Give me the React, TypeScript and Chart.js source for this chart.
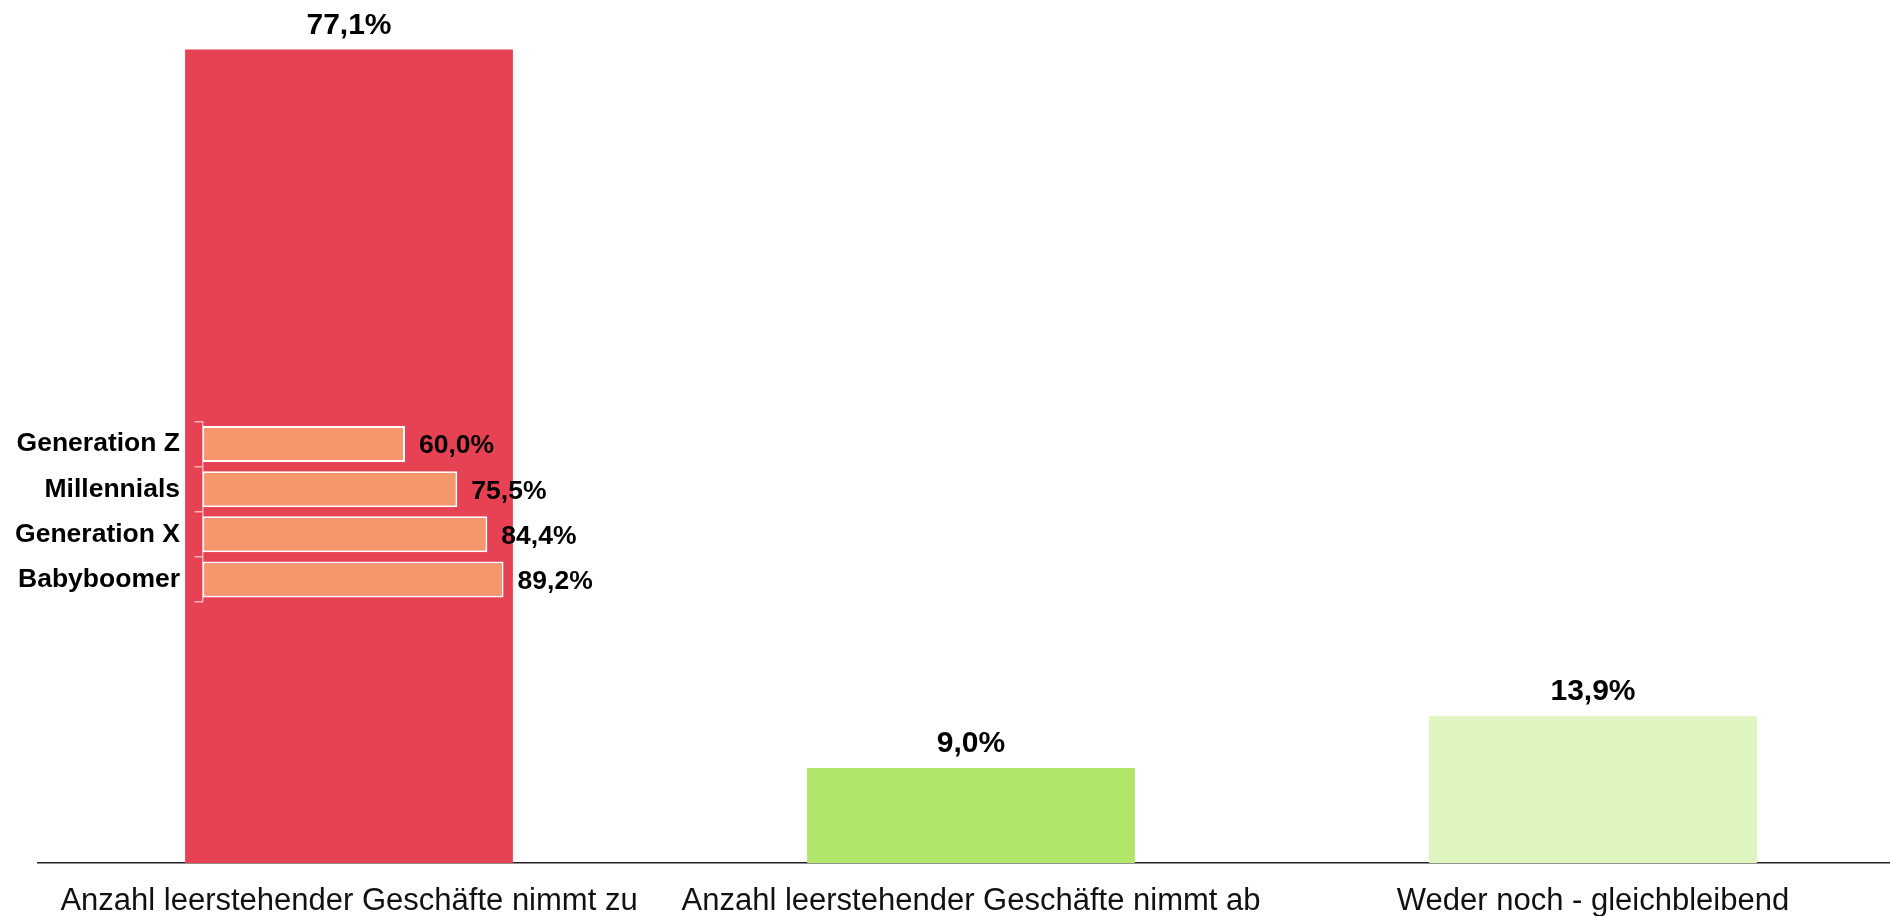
import React, { useEffect, useRef } from "react";
import { Chart, registerables } from "chart.js";

Chart.register(...registerables);

const categories = [
  "Anzahl leerstehender Geschäfte nimmt zu",
  "Anzahl leerstehender Geschäfte nimmt ab",
  "Weder noch - gleichbleibend",
];
const mainValues = [77.1, 9.0, 13.9];
const mainColors = ["#E64253", "#B2E66A", "#DEF5C0"];

const generations = ["Generation Z", "Millennials", "Generation X", "Babyboomer"];
const generationValues = [60.0, 75.5, 84.4, 89.2];
const generationColor = "#F5976A";

const FONT = '"Liberation Sans", Arial, Helvetica, sans-serif';

const fmt = (v: number) => v.toFixed(1).replace(".", ",") + "%";

const mainLabelPlugin = {
  id: "mainLabels",
  afterDatasetsDraw(chart: any) {
    const { ctx } = chart;
    const meta = chart.getDatasetMeta(0);
    ctx.save();
    ctx.font = `bold 30px ${FONT}`;
    ctx.fillStyle = "#000";
    ctx.textAlign = "center";
    ctx.textBaseline = "alphabetic";
    meta.data.forEach((bar: any, i: number) => {
      ctx.fillText(fmt(mainValues[i]), bar.x, bar.y - 16);
    });
    ctx.restore();
  },
};

const insetLabelPlugin = {
  id: "insetLabels",
  afterDatasetsDraw(chart: any) {
    const { ctx } = chart;
    const meta = chart.getDatasetMeta(0);
    ctx.save();
    ctx.font = `bold 26.5px ${FONT}`;
    ctx.fillStyle = "#000";
    ctx.textAlign = "left";
    ctx.textBaseline = "middle";
    meta.data.forEach((bar: any, i: number) => {
      ctx.fillText(fmt(generationValues[i]), bar.x + 14, bar.y + 2);
    });
    ctx.restore();
  },
};

export default function App() {
  const mainRef = useRef<HTMLCanvasElement>(null);
  const insetRef = useRef<HTMLCanvasElement>(null);

  useEffect(() => {
    const main = new Chart(mainRef.current as HTMLCanvasElement, {
      type: "bar",
      data: {
        labels: categories,
        datasets: [
          {
            data: mainValues,
            backgroundColor: mainColors,
            borderWidth: 0,
            categoryPercentage: 1,
            barPercentage: 0.527,
          },
        ],
      },
      options: {
        responsive: false,
        animation: false,
        devicePixelRatio: 1,
        layout: { padding: { top: 19, left: 38, right: 6, bottom: 0 } },
        plugins: { legend: { display: false }, tooltip: { enabled: false } },
        scales: {
          x: {
            grid: { display: false, drawTicks: false },
            border: { display: true, color: "#222", width: 1.5 },
            ticks: {
              autoSkip: false,
              maxRotation: 0,
              minRotation: 0,
              padding: 20,
              color: "#111",
              font: { family: FONT, size: 31 },
            },
            afterFit: (s: any) => {
              s.height = 53;
            },
          },
          y: { display: false, min: 0, max: 80 },
        },
      },
      plugins: [mainLabelPlugin],
    });

    const inset = new Chart(insetRef.current as HTMLCanvasElement, {
      type: "bar",
      data: {
        labels: generations,
        datasets: [
          {
            data: generationValues,
            backgroundColor: generationColor,
            borderColor: "#FFFFFF",
            borderWidth: 2,
            borderSkipped: false,
            categoryPercentage: 1,
            barPercentage: 0.8,
          },
        ],
      },
      options: {
        indexAxis: "y",
        responsive: false,
        animation: false,
        devicePixelRatio: 1,
        layout: { padding: { top: 41.5, left: 0, right: 80, bottom: 38 } },
        plugins: { legend: { display: false }, tooltip: { enabled: false } },
        scales: {
          y: {
            position: "left",
            grid: {
              display: true,
              drawOnChartArea: false,
              drawTicks: true,
              tickLength: 8,
              color: "rgba(255,255,255,0.6)",
              lineWidth: 1.5,
            },
            border: { display: true, color: "rgba(255,255,255,0.6)", width: 1.5 },
            ticks: {
              padding: 14.5,
              color: "#000",
              font: { family: FONT, size: 26.5, weight: "bold" },
            },
            afterFit: (s: any) => {
              s.width = 202.5;
            },
          },
          x: { display: false, min: 0, max: 100 },
        },
      },
      plugins: [insetLabelPlugin],
    });

    return () => {
      main.destroy();
      inset.destroy();
    };
  }, []);

  return (
    <div
      style={{
        position: "fixed",
        left: 0,
        top: 0,
        width: 1890,
        height: 916,
        overflow: "hidden",
        background: "#fff",
      }}
    >
      <canvas
        ref={mainRef}
        width={1910}
        height={916}
        style={{ position: "absolute", left: 0, top: 0, width: 1910, height: 916 }}
      />
      <canvas
        ref={insetRef}
        width={620}
        height={260}
        style={{
          position: "absolute",
          left: 0,
          top: 380,
          width: 620,
          height: 260,
          pointerEvents: "none",
        }}
      />
    </div>
  );
}
